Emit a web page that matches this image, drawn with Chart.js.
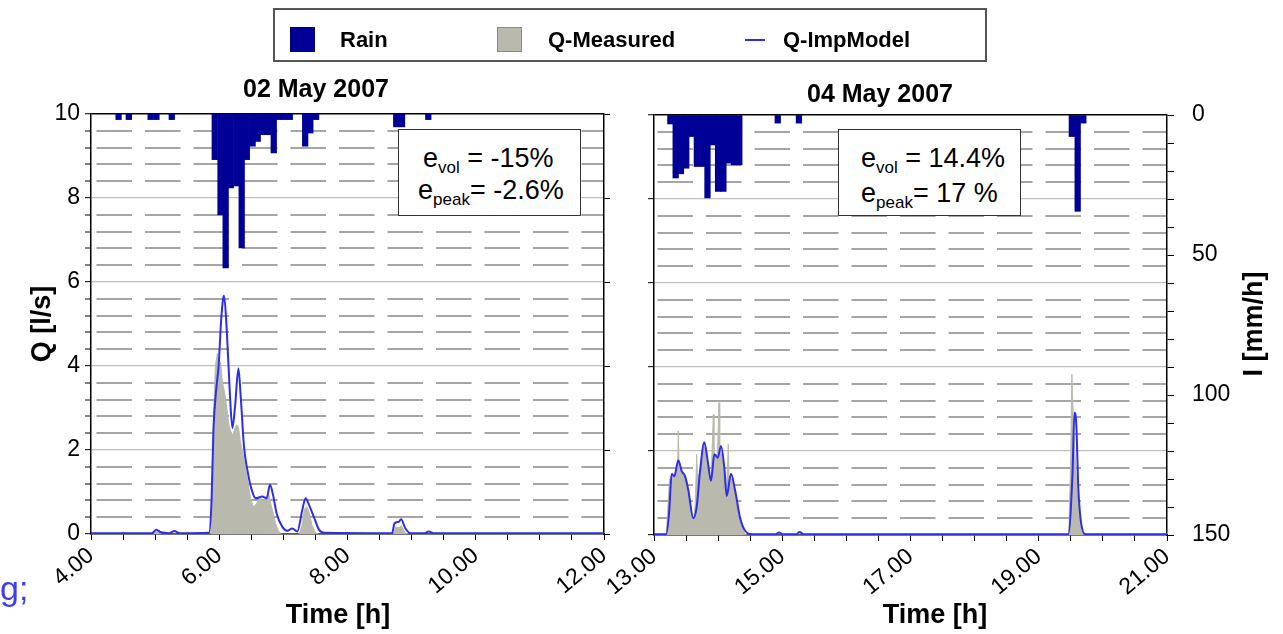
<!DOCTYPE html>
<html>
<head>
<meta charset="utf-8">
<script src="https://cdn.jsdelivr.net/npm/chart.js@4"></script>
<style>
  body { margin: 0; width: 1283px; height: 634px; background: #fff; position: relative; overflow: hidden;
         font-family: "Liberation Sans", Arial, sans-serif; color: #000; }
  canvas { position: absolute; top: 0; }
  #c1 { left: 0; }
  #c2 { left: 560px; }
  .legend { position: absolute; left: 273px; top: 8px; width: 710px; height: 50px; border: 2px solid #555; box-sizing: content-box; }
  .legend .sw { position: absolute; top: 17px; width: 25px; height: 25px; box-sizing: border-box; }
  .legend .txt { position: absolute; top: 17px; font-weight: bold; font-size: 22px; line-height: 26px; }
  .legend .ln { position: absolute; top: 29px; width: 20px; height: 2px; }
  .note { position: absolute; top: 129px; width: 181px; height: 85px; border: 1.5px solid #333; background: #fff; }
  .note div { position: absolute; font-size: 27px; line-height: 27px; white-space: nowrap; }
  .note span { font-size: 17px; position: relative; top: 6px; }
  .frag { position: absolute; left: 0; top: 568px; font-size: 34px; line-height: 40px; color: #3c3cf0; }
</style>
</head>
<body>
<canvas id="c1" width="632" height="634"></canvas>
<canvas id="c2" width="723" height="634"></canvas>

<div class="legend">
  <div class="sw" style="left:15px;background:rgb(0,0,150);border:1px solid #00006e"></div>
  <div class="txt" style="left:65px">Rain</div>
  <div class="sw" style="left:222px;background:rgb(185,185,173);border:1px solid #8a8a80"></div>
  <div class="txt" style="left:273px">Q-Measured</div>
  <div class="ln" style="left:470px;background:rgb(45,45,235)"></div>
  <div class="txt" style="left:508px">Q-ImpModel</div>
</div>

<div class="note" style="left:398px">
  <div style="left:24px;top:15px">e<span>vol</span> = -15%</div>
  <div style="left:19px;top:47px">e<span>peak</span>= -2.6%</div>
</div>
<div class="note" style="left:838px">
  <div style="left:22px;top:15px">e<span>vol</span> = 14.4%</div>
  <div style="left:22px;top:50px">e<span>peak</span>= 17 %</div>
</div>

<div class="frag">g;</div>

<script>
// ---- 02 May 2007 ----
const rainTimeA = [4.43, 4.59, 4.93, 5.02, 5.26, 5.93, 6.02, 6.10, 6.18, 6.27, 6.35, 6.43, 6.52, 6.60, 6.68, 6.77, 6.85, 6.93, 7.02, 7.10, 7.34, 7.42, 7.51, 8.76, 8.85, 9.26];
const rainA = [2, 2, 2, 2, 2, 16.3, 36, 55, 26.4, 25.7, 47.8, 16.3, 11.5, 9.8, 7.4, 7.4, 13.9, 2, 2, 2, 11.5, 6.8, 2, 4.6, 4.6, 2];

const qMeasTimeA = [4.00, 4.45, 4.50, 4.55, 4.95, 5.02, 5.10, 5.868, 5.885, 5.91, 5.94, 5.97, 5.99, 6.02, 6.05, 6.08, 6.11, 6.15, 6.18, 6.21, 6.24, 6.27, 6.30, 6.33, 6.37, 6.41, 6.45, 6.49, 6.53, 6.57, 6.61, 6.65, 6.69, 6.73, 6.77, 6.80, 6.84, 6.88, 6.92, 6.97, 7.25, 7.29, 7.33, 7.37, 7.41, 7.45, 7.50, 7.55, 8.72, 8.75, 8.80, 8.84, 8.90, 8.95, 12.00];
const qMeasA = [0, 0, 0.05, 0, 0, 0.06, 0, 0, 1.2, 2.8, 4.0, 4.3, 3.9, 4.1, 3.6, 3.4, 3.1, 2.6, 2.45, 2.35, 2.5, 2.6, 2.55, 2.2, 1.9, 1.55, 1.2, 0.85, 0.65, 0.7, 0.8, 0.85, 0.78, 0.8, 0.95, 0.75, 0.5, 0.25, 0.08, 0, 0, 0.2, 0.6, 0.65, 0.45, 0.2, 0.03, 0, 0, 0.17, 0.15, 0.2, 0.02, 0, 0];

const qModelTimeA = [4.00, 4.95, 5.02, 5.09, 5.22, 5.30, 5.38, 5.84, 5.88, 5.91, 5.95, 5.99, 6.03, 6.06, 6.075, 6.117, 6.168, 6.205, 6.246, 6.299, 6.335, 6.386, 6.439, 6.506, 6.568, 6.672, 6.739, 6.791, 6.844, 6.895, 6.984, 7.062, 7.139, 7.217, 7.295, 7.346, 7.398, 7.475, 7.553, 7.631, 8.696, 8.732, 8.798, 8.836, 8.903, 8.981, 9.20, 9.265, 9.343, 12.00];
const qModelA = [0.02, 0.02, 0.1, 0.04, 0.02, 0.07, 0.02, 0.03, 0.8, 2.5, 3.4, 4.0, 5.1, 5.6, 5.67, 4.86, 3.27, 2.52, 3.03, 3.94, 3.27, 2.08, 1.52, 1.05, 0.85, 0.89, 0.85, 1.17, 0.89, 0.49, 0.17, 0.08, 0.13, 0.06, 0.57, 0.85, 0.7, 0.41, 0.11, 0.03, 0.02, 0.25, 0.29, 0.35, 0.13, 0.02, 0.02, 0.06, 0.02, 0.02];

// ---- 04 May 2007 ----
const rainTimeB = [13.255, 13.338, 13.420, 13.503, 13.586, 13.668, 13.751, 13.834, 13.917, 13.999, 14.082, 14.165, 14.247, 14.330, 14.93, 15.26, 19.516, 19.607, 19.695];
const rainB = [3.2, 22.5, 21, 19, 7.7, 18.4, 18.4, 29.6, 10.7, 27.3, 27.3, 17.2, 17.8, 17.8, 2.9, 2.9, 7.7, 34.4, 2.9];

const qMeasTimeB = [13.0, 13.19, 13.215, 13.24, 13.27, 13.30, 13.34, 13.37, 13.379, 13.39, 13.42, 13.46, 13.50, 13.54, 13.58, 13.62, 13.645, 13.666, 13.68, 13.72, 13.76, 13.79, 13.82, 13.86, 13.89, 13.925, 13.935, 13.96, 13.99, 14.014, 14.025, 14.06, 14.10, 14.13, 14.159, 14.17, 14.22, 14.27, 14.33, 14.38, 14.42, 14.45, 19.47, 19.50, 19.516, 19.53, 19.541, 19.57, 19.60, 19.63, 19.66, 19.70, 21.0];
const qMeasB = [0, 0, 0.6, 1.3, 1.45, 1.35, 1.5, 1.7, 2.48, 1.75, 1.55, 1.45, 1.25, 0.9, 0.55, 0.35, 0.8, 1.92, 1.3, 1.55, 1.95, 2.1, 1.75, 1.4, 1.3, 2.87, 1.8, 1.85, 1.95, 3.15, 2.0, 1.9, 1.45, 1.0, 2.17, 1.4, 1.3, 0.95, 0.45, 0.15, 0.02, 0, 0, 2.0, 3.83, 3.2, 2.64, 1.8, 1.0, 0.4, 0.1, 0, 0];

const qModelTimeB = [13.0, 13.19, 13.234, 13.276, 13.317, 13.379, 13.432, 13.484, 13.535, 13.613, 13.666, 13.718, 13.785, 13.838, 13.889, 13.941, 13.994, 14.045, 14.097, 14.134, 14.201, 14.264, 14.342, 14.42, 14.524, 14.90, 14.95, 15.0, 15.22, 15.27, 15.33, 19.46, 19.526, 19.557, 19.583, 19.619, 19.661, 19.724, 21.0];
const qModelB = [0.02, 0.02, 0.5, 1.45, 1.4, 1.78, 1.52, 1.4, 1.07, 0.4, 0.67, 1.52, 2.21, 1.76, 1.29, 1.92, 1.84, 2.12, 1.6, 0.93, 1.46, 1.07, 0.41, 0.1, 0.02, 0.02, 0.06, 0.02, 0.02, 0.07, 0.02, 0.02, 1.45, 2.91, 2.71, 1.05, 0.28, 0.02, 0.02];

// tick labels
const qTicks = [0, 2, 4, 6, 8, 10];
const iTicks = [0, 50, 100, 150];
const timeTicksA = [4, 6, 8, 10, 12];
const timeTicksB = [13, 15, 17, 19, 21];

const RAIN_COLOR = 'rgb(0,0,150)';
const MEAS_COLOR = 'rgb(185,185,173)';
const MODEL_COLOR = 'rgb(45,45,235)';

Chart.defaults.font.family = "'Liberation Sans', Arial, sans-serif";
Chart.defaults.color = '#000';

const near = (v, list) => list.some(t => Math.abs(v - t) < 1e-6);
const pts = (xs, ys) => xs.map((x, i) => ({ x: x, y: ys[i] }));
const isMajorQ = c => c.tick && near(c.tick.value, qTicks);
const isTopQ = c => c.tick && Math.abs(c.tick.value - 10) < 1e-6;

// free text drawn on the canvas (panel titles, x titles, right y title)
const textPlugin = {
  id: 'panelText',
  afterDraw(chart, args, opts) {
    const ctx = chart.ctx;
    (opts.items || []).forEach(it => {
      ctx.save();
      ctx.font = it.font;
      ctx.fillStyle = '#000';
      ctx.textAlign = 'center';
      ctx.textBaseline = 'middle';
      ctx.translate(it.x, it.y);
      if (it.rotate) ctx.rotate(it.rotate);
      ctx.fillText(it.text, 0, 0);
      ctx.restore();
    });
  }
};

function qGrid(showTickMinor) {
  return {
    color: c => isTopQ(c) ? '#000' : (isMajorQ(c) ? 'rgb(190,190,190)' : 'rgb(165,165,165)'),
    lineWidth: c => isTopQ(c) ? 1.5 : (isMajorQ(c) ? 1.3 : 2),
    tickColor: c => (showTickMinor || isMajorQ(c)) ? '#000' : 'rgba(0,0,0,0)',
    tickWidth: 1,
    tickLength: 6
  };
}

function makeChart(id, cfg) {
  const datasets = [
    {
      type: 'line', label: 'Q-ImpModel', data: pts(cfg.modelT, cfg.model), yAxisID: 'yQ',
      borderColor: MODEL_COLOR, borderWidth: 2, pointRadius: 0,
      cubicInterpolationMode: 'monotone', fill: false, order: 0
    },
    {
      type: 'bar', label: 'Rain', data: pts(cfg.rainT, cfg.rain), yAxisID: 'yI',
      backgroundColor: RAIN_COLOR, borderWidth: 0, barThickness: 5.6, order: 1
    },
    {
      type: 'line', label: 'Q-Measured', data: pts(cfg.measT, cfg.meas), yAxisID: 'yQ',
      borderColor: MEAS_COLOR, backgroundColor: MEAS_COLOR, borderWidth: 1, pointRadius: 0,
      tension: 0, fill: 'origin', order: 2
    }
  ];

  const scales = {
    x: {
      type: 'linear', min: cfg.xMin, max: cfg.xMax, offset: false,
      ticks: {
        stepSize: 0.5, autoSkip: false, minRotation: 40, maxRotation: 40, padding: 2,
        font: { size: 23 },
        callback: v => near(v, cfg.xTicks) ? v.toFixed(2) : ''
      },
      grid: { drawOnChartArea: false, tickColor: '#000', tickLength: 6, offset: false },
      border: { color: '#000', width: 1.5 },
      afterFit: s => { s.height = cfg.xHeight; }
    },
    yQ: {
      type: 'linear', position: 'left', min: 0, max: 10,
      ticks: {
        stepSize: 0.4, autoSkip: false, display: cfg.qLabels, padding: 5,
        font: { size: 23 },
        callback: v => near(v, qTicks) ? String(Math.round(v)) : ''
      },
      grid: qGrid(cfg.qLabels),
      border: {
        color: '#000', width: 1.5,
        dash: c => (c.tick && !near(c.tick.value, qTicks)) ? [35.5, 13] : [],
        dashOffset: cfg.dashOffset
      },
      title: cfg.qLabels ? { display: true, text: 'Q [l/s]', font: { size: 27, weight: 'bold' }, padding: { top: 26, bottom: 0 } } : { display: false },
      afterFit: s => { s.width = cfg.leftWidth; }
    },
    yI: {
      type: 'linear', position: 'right', min: 0, max: 150, reverse: true,
      display: cfg.iAxis,
      ticks: {
        stepSize: 10, autoSkip: false, padding: 18, font: { size: 23 },
        callback: v => near(v, iTicks) ? String(v) : ''
      },
      grid: { drawOnChartArea: false, tickColor: '#000', tickLength: 7 },
      border: { color: '#000', width: 1.5 },
      afterFit: s => { s.width = cfg.iAxis ? cfg.rightWidth : 0; }
    }
  };

  if (!cfg.iAxis) {
    scales.yR = {
      type: 'linear', position: 'right', min: 0, max: 10,
      ticks: { stepSize: 2, display: false },
      grid: { drawOnChartArea: false, tickColor: '#000', tickLength: 6 },
      border: { color: '#000', width: 1.5 },
      afterFit: s => { s.width = cfg.rightWidth; }
    };
  }

  return new Chart(document.getElementById(id), {
    data: { datasets: datasets },
    plugins: [textPlugin],
    options: {
      responsive: false,
      animation: false,
      layout: { padding: { top: cfg.top, left: 0, right: 0, bottom: 0 } },
      scales: scales,
      plugins: {
        legend: { display: false },
        tooltip: { enabled: false },
        panelText: { items: cfg.texts }
      }
    }
  });
}

makeChart('c1', {
  rainT: rainTimeA, rain: rainA, measT: qMeasTimeA, meas: qMeasA, modelT: qModelTimeA, model: qModelA,
  xMin: 4, xMax: 12, xTicks: timeTicksA,
  qLabels: true, iAxis: false, leftWidth: 91, rightWidth: 28, top: 114, xHeight: 100, dashOffset: 43.5,
  texts: [
    { text: '02 May 2007', x: 316, y: 90, font: 'bold 25px "Liberation Sans", Arial, sans-serif' },
    { text: 'Time [h]', x: 338, y: 616, font: 'bold 27px "Liberation Sans", Arial, sans-serif' }
  ]
});

makeChart('c2', {
  rainT: rainTimeB, rain: rainB, measT: qMeasTimeB, meas: qMeasB, modelT: qModelTimeB, model: qModelB,
  xMin: 13, xMax: 21, xTicks: timeTicksB,
  qLabels: false, iAxis: true, leftWidth: 94, rightWidth: 116, top: 115, xHeight: 99, dashOffset: 45.5,
  texts: [
    { text: '04 May 2007', x: 320, y: 95, font: 'bold 25px "Liberation Sans", Arial, sans-serif' },
    { text: 'Time [h]', x: 375, y: 616, font: 'bold 27px "Liberation Sans", Arial, sans-serif' },
    { text: 'I [mm/h]', x: 695, y: 324, rotate: -Math.PI / 2, font: 'bold 27px "Liberation Sans", Arial, sans-serif' }
  ]
});
</script>
</body>
</html>
